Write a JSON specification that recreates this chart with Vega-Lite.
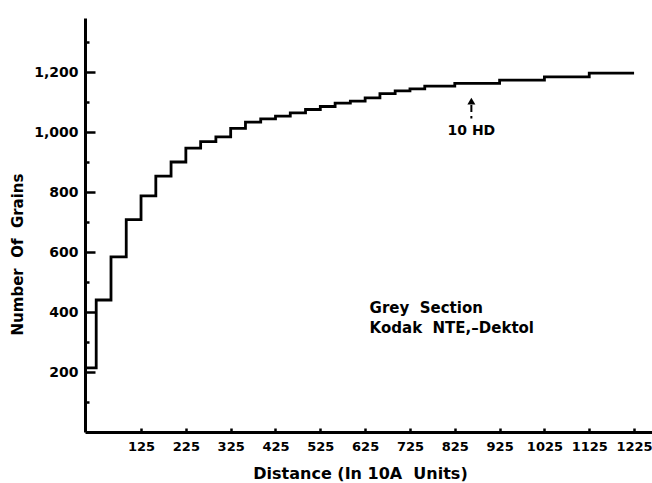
{
  "$schema": "https://vega.github.io/schema/vega-lite/v6.json",
  "width": 567,
  "height": 414,
  "autosize": {"type": "none"},
  "padding": {"left": 85, "top": 18, "right": 0, "bottom": 51},
  "background": "white",
  "config": {
    "view": {"stroke": null},
    "font": "DejaVu Sans",
    "axis": {
      "grid": false,
      "domainColor": "black",
      "domainWidth": 3,
      "tickColor": "black",
      "tickWidth": 2.5,
      "labelColor": "black",
      "titleColor": "black",
      "labelFont": "DejaVu Sans",
      "titleFont": "DejaVu Sans",
      "labelFontSize": 14,
      "labelFontWeight": "bold",
      "titleFontSize": 15,
      "titleFontWeight": "bold"
    }
  },
  "resolve": {"axis": {"y": "independent"}},
  "datasets": {
    "curve": [
      {"distance": 0, "grains": 214},
      {"distance": 25, "grains": 440},
      {"distance": 58, "grains": 584},
      {"distance": 92, "grains": 708},
      {"distance": 125, "grains": 787},
      {"distance": 158, "grains": 853},
      {"distance": 192, "grains": 900},
      {"distance": 225, "grains": 946},
      {"distance": 258, "grains": 968},
      {"distance": 292, "grains": 984},
      {"distance": 325, "grains": 1012},
      {"distance": 358, "grains": 1033},
      {"distance": 392, "grains": 1044},
      {"distance": 425, "grains": 1053},
      {"distance": 458, "grains": 1064},
      {"distance": 492, "grains": 1075},
      {"distance": 525, "grains": 1085},
      {"distance": 558, "grains": 1096},
      {"distance": 592, "grains": 1103},
      {"distance": 625, "grains": 1114},
      {"distance": 658, "grains": 1128},
      {"distance": 692, "grains": 1137},
      {"distance": 725, "grains": 1144},
      {"distance": 758, "grains": 1153},
      {"distance": 825, "grains": 1162},
      {"distance": 925, "grains": 1173},
      {"distance": 1025, "grains": 1184},
      {"distance": 1125, "grains": 1196},
      {"distance": 1225, "grains": 1196}
    ],
    "notes": [
      {"distance": 635, "grains": 415, "label": "Grey\u00a0 Section"},
      {"distance": 635, "grains": 347, "label": "Kodak\u00a0 NTE,\u2013Dektol"}
    ],
    "marker": [
      {"distance": 862, "grains": 1103, "shaft_end": 1045, "shaft_start": 1090, "label": "10 HD", "label_y": 1005}
    ]
  },
  "layer": [
    {
      "data": {"name": "curve"},
      "mark": {"type": "line", "interpolate": "step-after", "color": "black", "strokeWidth": 2.8},
      "encoding": {
        "x": {
          "field": "distance",
          "type": "quantitative",
          "scale": {"domain": [0, 1265], "nice": false, "zero": false},
          "axis": {
            "values": [125, 225, 325, 425, 525, 625, 725, 825, 925, 1025, 1125, 1225],
            "format": "d",
            "tickSize": -4,
            "labelPadding": 12,
            "labelFontSize": 13,
            "title": "Distance (In 10A\u00a0 Units)",
            "titleFontSize": 16,
            "titleX": 275,
            "titleY": 41,
            "titleAlign": "center",
            "titleBaseline": "middle"
          }
        },
        "y": {
          "field": "grains",
          "type": "quantitative",
          "scale": {"domain": [0, 1380], "nice": false},
          "axis": {
            "orient": "left",
            "values": [200, 400, 600, 800, 1000, 1200],
            "format": ",d",
            "tickSize": -10,
            "labelPadding": 17,
            "title": "Number\u00a0 Of\u00a0 Grains",
            "titleX": -68,
            "titleY": 236,
            "titleAlign": "center",
            "titleBaseline": "middle"
          }
        }
      }
    },
    {
      "data": {"name": "notes"},
      "mark": {"type": "text", "align": "left", "baseline": "middle", "fontSize": 15, "fontWeight": "bold", "font": "DejaVu Sans", "color": "black"},
      "encoding": {
        "x": {"field": "distance", "type": "quantitative"},
        "y": {
          "field": "grains",
          "type": "quantitative",
          "axis": {
            "orient": "left",
            "values": [100, 300, 500, 700, 900, 1100, 1300],
            "tickSize": -4,
            "labels": false,
            "domain": false,
            "title": null
          }
        },
        "text": {"field": "label"}
      }
    },
    {
      "data": {"name": "marker"},
      "mark": {"type": "point", "shape": "triangle-up", "filled": true, "size": 64, "color": "black", "opacity": 1},
      "encoding": {
        "x": {"field": "distance", "type": "quantitative"},
        "y": {"field": "grains", "type": "quantitative", "axis": null}
      }
    },
    {
      "data": {"name": "marker"},
      "mark": {"type": "rule", "color": "black", "strokeWidth": 2, "strokeDash": [7, 4]},
      "encoding": {
        "x": {"field": "distance", "type": "quantitative"},
        "y": {"field": "shaft_start", "type": "quantitative", "axis": null},
        "y2": {"field": "shaft_end"}
      }
    },
    {
      "data": {"name": "marker"},
      "mark": {"type": "text", "align": "center", "baseline": "middle", "fontSize": 14, "fontWeight": "bold", "font": "DejaVu Sans", "color": "black"},
      "encoding": {
        "x": {"field": "distance", "type": "quantitative"},
        "y": {"field": "label_y", "type": "quantitative", "axis": null},
        "text": {"field": "label"}
      }
    }
  ]
}
